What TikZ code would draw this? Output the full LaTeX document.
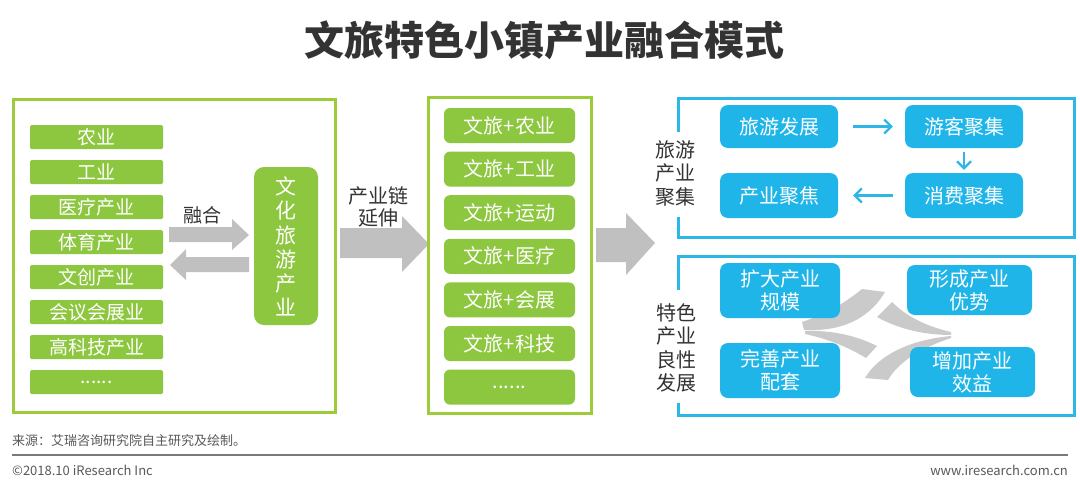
\documentclass[tikz,border=0pt]{standalone}
\usepackage{fontspec}
\setmainfont{Noto Sans CJK SC}
\usetikzlibrary{arrows.meta}
\definecolor{gfill}{HTML}{8DC63F}
\definecolor{gline}{HTML}{9CCB3B}
\definecolor{bfill}{HTML}{1FB5E8}
\definecolor{bline}{HTML}{2CB7E6}
\definecolor{grayar}{HTML}{C0C0C0}
\definecolor{starg}{HTML}{CACACA}
\definecolor{txt}{HTML}{333333}
\definecolor{foot}{HTML}{595959}
\newcommand\sixdots{......}
\begin{document}
\begin{tikzpicture}[x=1pt,y=-1pt,
  gbar/.style={fill=gfill, minimum width=133pt, minimum height=24pt, inner sep=0pt, text=white, font=\fontsize{19}{20}\selectfont, rounded corners=1.5pt},
  gitem/.style={fill=gfill, minimum width=131pt, minimum height=35pt, inner sep=0pt, text=white, font=\fontsize{20}{22}\selectfont, rounded corners=6pt},
  bbox/.style={fill=bfill, rounded corners=8pt, text=white, inner sep=0pt, font=\fontsize{20}{23}\selectfont, align=center},
  lbl/.style={text=txt, font=\fontsize{20}{23.5}\selectfont, align=center, inner sep=0pt},
  gframe/.style={draw=gline, line width=3pt},
  bframe/.style={draw=bline, line width=3pt},
  barrow/.style={draw=bline, line width=2.2pt, -{Straight Barb[length=7pt,width=14pt]}},
  garrow/.style={fill=grayar},
  star/.style={fill=starg},
  foottxt/.style={text=foot, font=\fontsize{13}{14}\selectfont, inner sep=0pt}
]
\useasboundingbox (0,0) rectangle (1080,488);
\fill[white] (0,0) rectangle (1080,488);

% title
\node[text=txt, font=\fontsize{40}{42}\selectfont\bfseries, inner sep=0pt] (title) at (544,40) {文旅特色小镇产业融合模式};

% left frame
\draw[gframe] (13,99) rectangle (335,412);
\foreach \t [count=\i from 0] in {农业,工业,医疗产业,体育产业,文创产业,会议会展业,高科技产业,\sixdots}
  \node[gbar] (l\i) at (96.5,137+35*\i) {\t};
\node[fill=gfill, rounded corners=10pt, minimum width=64pt, minimum height=158pt, inner sep=0pt] (wlcy) at (286,246) {};
\node[text=white, font=\fontsize{21}{24.2}\selectfont, align=center, inner sep=0pt] (wlcyt) at (286,246.5) {文\\化\\旅\\游\\产\\业};

% fusion arrows
\node[lbl, font=\fontsize{19}{20}\selectfont] (rh) at (202,215) {融合};
\fill[garrow] (169,227) -- (232,227) -- (232,219) -- (249,235) -- (232,250) -- (232,242) -- (169,242) -- cycle;
\fill[garrow] (249,257) -- (186,257) -- (186,249) -- (170,265) -- (186,280) -- (186,272) -- (249,272) -- cycle;

% chain arrow
\node[lbl] (cyl) at (378,196) {产业链};
\node[lbl] (ys) at (378,218) {延伸};
\fill[garrow] (340,228) -- (402,228) -- (402,216) -- (429,244) -- (402,272) -- (402,258) -- (340,258) -- cycle;

% middle frame
\draw[gframe] (428,97) rectangle (591,413);
\foreach \t [count=\i from 0] in {文旅+农业,文旅+工业,文旅+运动,文旅+医疗,文旅+会展,文旅+科技,\sixdots}
  \node[gitem] (m\i) at (509.5,125.5+43.6*\i) {\t};

% right arrow
\fill[garrow] (596,228) -- (626,228) -- (626,213) -- (655,243) -- (626,275) -- (626,262) -- (596,262) -- cycle;

% top right frame
\draw[bframe] (678,132) -- (678,98) -- (1074,98) -- (1074,237) -- (678,237) -- (678,217);
\node[lbl] (lycyjj) at (675,173) {旅游\\产业\\聚集};
\node[bbox, minimum width=118pt, minimum height=43pt] (lyfz) at (779,126.5) {旅游发展};
\node[bbox, minimum width=118pt, minimum height=43pt] (ykjj) at (964,126.5) {游客聚集};
\node[bbox, minimum width=118pt, minimum height=45pt] (cyjj) at (779,195.5) {产业聚焦};
\node[bbox, minimum width=118pt, minimum height=45pt] (xfjj) at (964,195.5) {消费聚集};
\draw[barrow] ([xshift=15pt]lyfz.east) -- ([xshift=-12pt]ykjj.west);
\draw[barrow] ([yshift=-4pt]ykjj.south) -- ([yshift=3pt]xfjj.north);
\draw[barrow] ([xshift=-12pt]xfjj.west) -- ([xshift=15pt]cyjj.east);

% bottom right frame
\draw[bframe] (678,290) -- (678,256) -- (1074,256) -- (1074,415) -- (678,415) -- (678,403);
\node[lbl, font=\fontsize{20}{23.3}\selectfont] (tscy) at (676,348) {特色\\产业\\良性\\发展};

% star bands
\fill[star] (862,289) .. controls (845,303) and (826,314) .. (802,322) -- (804,330) .. controls (848,332) and (872,314) .. (885,292) -- cycle;
\fill[star] (805,331) .. controls (833,330) and (857,336) .. (877,346) -- (866,358) .. controls (848,347) and (828,339) .. (805,334) -- cycle;
\fill[star] (892,302) .. controls (906,316) and (925,326) .. (951,332) -- (951,335) .. controls (918,335) and (893,326) .. (877,317) -- cycle;
\fill[star] (865,378) .. controls (878,356) and (908,340) .. (951,336) -- (951,338) .. controls (918,349) and (898,363) .. (888,380) -- cycle;

\node[bbox, minimum width=120pt, minimum height=55pt] (kdcy) at (780,290.5) {扩大产业\\规模};
\node[bbox, minimum width=125pt, minimum height=50pt] (xccy) at (969.5,290) {形成产业\\优势};
\node[bbox, minimum width=120pt, minimum height=55pt] (wscy) at (780,370.5) {完善产业\\配套};
\node[bbox, minimum width=125pt, minimum height=50pt] (zjcy) at (972.5,372) {增加产业\\效益};

% footer
\node[foottxt, anchor=west] (src) at (12,441) {来源：艾瑞咨询研究院自主研究及绘制。};
\coordinate (fl) at (12,455);
\coordinate (fr) at (1068,455);
\draw[draw=foot!80, line width=1.5pt] (fl) -- (fr);
\node[foottxt, anchor=west] (copy) at (12,470) {©2018.10 iResearch Inc};
\node[foottxt, anchor=east] (web) at (1068,470) {www.iresearch.com.cn};
\end{tikzpicture}
\end{document}
